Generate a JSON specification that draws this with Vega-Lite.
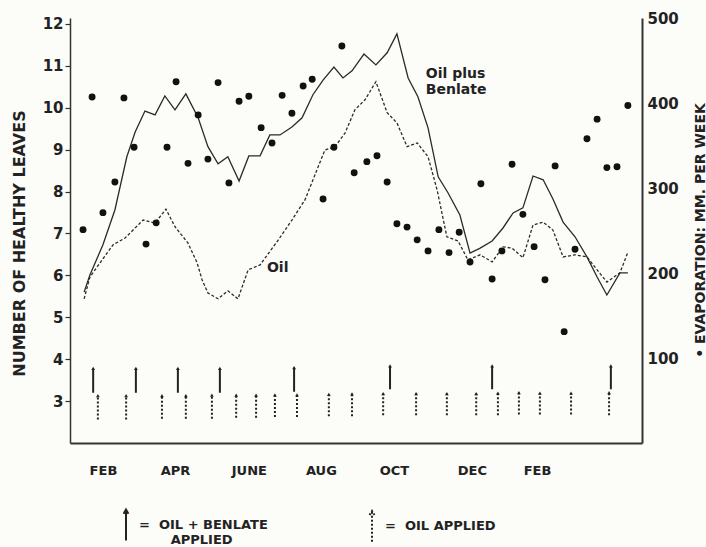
{
  "$schema": "https://vega.github.io/schema/vega-lite/v6.json",
  "width": 572,
  "height": 425,
  "autosize": "none",
  "padding": {"left": 70, "top": 18, "right": 64, "bottom": 104},
  "background": "#fcfcf9",
  "config": {"view": {"stroke": null}, "font": "DejaVu Sans"},
  "datasets": {
    "leaves": [
      {"m": 0.39, "v": 5.60, "s": "Oil plus Benlate"},
      {"m": 0.55, "v": 6.01, "s": "Oil plus Benlate"},
      {"m": 0.91, "v": 6.73, "s": "Oil plus Benlate"},
      {"m": 1.24, "v": 7.56, "s": "Oil plus Benlate"},
      {"m": 1.57, "v": 8.83, "s": "Oil plus Benlate"},
      {"m": 1.80, "v": 9.42, "s": "Oil plus Benlate"},
      {"m": 2.07, "v": 9.92, "s": "Oil plus Benlate"},
      {"m": 2.35, "v": 9.83, "s": "Oil plus Benlate"},
      {"m": 2.62, "v": 10.28, "s": "Oil plus Benlate"},
      {"m": 2.90, "v": 9.95, "s": "Oil plus Benlate"},
      {"m": 3.20, "v": 10.33, "s": "Oil plus Benlate"},
      {"m": 3.54, "v": 9.76, "s": "Oil plus Benlate"},
      {"m": 3.81, "v": 9.07, "s": "Oil plus Benlate"},
      {"m": 4.09, "v": 8.66, "s": "Oil plus Benlate"},
      {"m": 4.36, "v": 8.83, "s": "Oil plus Benlate"},
      {"m": 4.67, "v": 8.25, "s": "Oil plus Benlate"},
      {"m": 4.94, "v": 8.85, "s": "Oil plus Benlate"},
      {"m": 5.25, "v": 8.85, "s": "Oil plus Benlate"},
      {"m": 5.52, "v": 9.35, "s": "Oil plus Benlate"},
      {"m": 5.80, "v": 9.35, "s": "Oil plus Benlate"},
      {"m": 6.13, "v": 9.54, "s": "Oil plus Benlate"},
      {"m": 6.41, "v": 9.76, "s": "Oil plus Benlate"},
      {"m": 6.71, "v": 10.31, "s": "Oil plus Benlate"},
      {"m": 6.99, "v": 10.66, "s": "Oil plus Benlate"},
      {"m": 7.29, "v": 10.97, "s": "Oil plus Benlate"},
      {"m": 7.54, "v": 10.71, "s": "Oil plus Benlate"},
      {"m": 7.79, "v": 10.88, "s": "Oil plus Benlate"},
      {"m": 8.12, "v": 11.28, "s": "Oil plus Benlate"},
      {"m": 8.45, "v": 11.02, "s": "Oil plus Benlate"},
      {"m": 8.76, "v": 11.31, "s": "Oil plus Benlate"},
      {"m": 9.03, "v": 11.76, "s": "Oil plus Benlate"},
      {"m": 9.34, "v": 10.71, "s": "Oil plus Benlate"},
      {"m": 9.61, "v": 10.26, "s": "Oil plus Benlate"},
      {"m": 9.89, "v": 9.52, "s": "Oil plus Benlate"},
      {"m": 10.17, "v": 8.35, "s": "Oil plus Benlate"},
      {"m": 10.44, "v": 7.97, "s": "Oil plus Benlate"},
      {"m": 10.77, "v": 7.44, "s": "Oil plus Benlate"},
      {"m": 11.05, "v": 6.53, "s": "Oil plus Benlate"},
      {"m": 11.33, "v": 6.65, "s": "Oil plus Benlate"},
      {"m": 11.66, "v": 6.82, "s": "Oil plus Benlate"},
      {"m": 11.96, "v": 7.13, "s": "Oil plus Benlate"},
      {"m": 12.24, "v": 7.49, "s": "Oil plus Benlate"},
      {"m": 12.51, "v": 7.61, "s": "Oil plus Benlate"},
      {"m": 12.79, "v": 8.37, "s": "Oil plus Benlate"},
      {"m": 13.07, "v": 8.28, "s": "Oil plus Benlate"},
      {"m": 13.34, "v": 7.82, "s": "Oil plus Benlate"},
      {"m": 13.62, "v": 7.27, "s": "Oil plus Benlate"},
      {"m": 13.95, "v": 6.92, "s": "Oil plus Benlate"},
      {"m": 14.28, "v": 6.44, "s": "Oil plus Benlate"},
      {"m": 14.56, "v": 5.96, "s": "Oil plus Benlate"},
      {"m": 14.83, "v": 5.53, "s": "Oil plus Benlate"},
      {"m": 15.19, "v": 6.06, "s": "Oil plus Benlate"},
      {"m": 15.41, "v": 6.06, "s": "Oil plus Benlate"},
      {"m": 0.39, "v": 5.44, "s": "Oil"},
      {"m": 0.55, "v": 5.96, "s": "Oil"},
      {"m": 0.83, "v": 6.30, "s": "Oil"},
      {"m": 1.19, "v": 6.73, "s": "Oil"},
      {"m": 1.52, "v": 6.89, "s": "Oil"},
      {"m": 2.02, "v": 7.32, "s": "Oil"},
      {"m": 2.35, "v": 7.25, "s": "Oil"},
      {"m": 2.65, "v": 7.58, "s": "Oil"},
      {"m": 2.90, "v": 7.16, "s": "Oil"},
      {"m": 3.26, "v": 6.77, "s": "Oil"},
      {"m": 3.51, "v": 6.30, "s": "Oil"},
      {"m": 3.65, "v": 5.89, "s": "Oil"},
      {"m": 3.81, "v": 5.58, "s": "Oil"},
      {"m": 4.09, "v": 5.44, "s": "Oil"},
      {"m": 4.36, "v": 5.63, "s": "Oil"},
      {"m": 4.64, "v": 5.44, "s": "Oil"},
      {"m": 4.92, "v": 6.13, "s": "Oil"},
      {"m": 5.25, "v": 6.25, "s": "Oil"},
      {"m": 5.75, "v": 6.84, "s": "Oil"},
      {"m": 6.13, "v": 7.32, "s": "Oil"},
      {"m": 6.49, "v": 7.80, "s": "Oil"},
      {"m": 7.04, "v": 8.99, "s": "Oil"},
      {"m": 7.32, "v": 9.07, "s": "Oil"},
      {"m": 7.60, "v": 9.40, "s": "Oil"},
      {"m": 7.87, "v": 9.95, "s": "Oil"},
      {"m": 8.15, "v": 10.19, "s": "Oil"},
      {"m": 8.45, "v": 10.62, "s": "Oil"},
      {"m": 8.76, "v": 9.88, "s": "Oil"},
      {"m": 9.03, "v": 9.64, "s": "Oil"},
      {"m": 9.31, "v": 9.07, "s": "Oil"},
      {"m": 9.59, "v": 9.16, "s": "Oil"},
      {"m": 9.89, "v": 8.83, "s": "Oil"},
      {"m": 10.14, "v": 8.04, "s": "Oil"},
      {"m": 10.41, "v": 6.92, "s": "Oil"},
      {"m": 10.72, "v": 6.82, "s": "Oil"},
      {"m": 10.99, "v": 6.37, "s": "Oil"},
      {"m": 11.33, "v": 6.49, "s": "Oil"},
      {"m": 11.66, "v": 6.32, "s": "Oil"},
      {"m": 11.96, "v": 6.68, "s": "Oil"},
      {"m": 12.21, "v": 6.65, "s": "Oil"},
      {"m": 12.51, "v": 6.42, "s": "Oil"},
      {"m": 12.79, "v": 7.20, "s": "Oil"},
      {"m": 13.07, "v": 7.27, "s": "Oil"},
      {"m": 13.34, "v": 7.08, "s": "Oil"},
      {"m": 13.62, "v": 6.44, "s": "Oil"},
      {"m": 13.95, "v": 6.49, "s": "Oil"},
      {"m": 14.28, "v": 6.44, "s": "Oil"},
      {"m": 14.56, "v": 6.13, "s": "Oil"},
      {"m": 14.83, "v": 5.84, "s": "Oil"},
      {"m": 15.19, "v": 6.06, "s": "Oil"},
      {"m": 15.41, "v": 6.55, "s": "Oil"}
    ],
    "evap": [
      {"m": 0.36, "e": 251}, {"m": 0.61, "e": 407}, {"m": 0.91, "e": 271}, {"m": 1.24, "e": 307},
      {"m": 1.49, "e": 406}, {"m": 1.77, "e": 348}, {"m": 2.10, "e": 234}, {"m": 2.38, "e": 259},
      {"m": 2.68, "e": 348}, {"m": 2.93, "e": 425}, {"m": 3.26, "e": 329}, {"m": 3.54, "e": 386},
      {"m": 3.81, "e": 334}, {"m": 4.09, "e": 424}, {"m": 4.39, "e": 306}, {"m": 4.67, "e": 402},
      {"m": 4.94, "e": 408}, {"m": 5.28, "e": 371}, {"m": 5.58, "e": 353}, {"m": 5.86, "e": 409},
      {"m": 6.13, "e": 388}, {"m": 6.44, "e": 420}, {"m": 6.69, "e": 428}, {"m": 6.99, "e": 287},
      {"m": 7.29, "e": 348}, {"m": 7.51, "e": 467}, {"m": 7.85, "e": 318}, {"m": 8.20, "e": 331},
      {"m": 8.48, "e": 338}, {"m": 8.76, "e": 307}, {"m": 9.03, "e": 258}, {"m": 9.31, "e": 254},
      {"m": 9.59, "e": 239}, {"m": 9.89, "e": 226}, {"m": 10.19, "e": 251}, {"m": 10.47, "e": 224},
      {"m": 10.75, "e": 248}, {"m": 11.05, "e": 213}, {"m": 11.35, "e": 305}, {"m": 11.66, "e": 193},
      {"m": 11.93, "e": 226}, {"m": 12.21, "e": 328}, {"m": 12.51, "e": 269}, {"m": 12.82, "e": 231},
      {"m": 13.12, "e": 192}, {"m": 13.40, "e": 326}, {"m": 13.65, "e": 131}, {"m": 13.95, "e": 228},
      {"m": 14.28, "e": 358}, {"m": 14.56, "e": 381}, {"m": 14.83, "e": 324}, {"m": 15.11, "e": 325},
      {"m": 15.41, "e": 397}
    ],
    "apps": [
      {"m": 0.64, "lo": 3.2, "hi": 3.78, "type": "OIL + BENLATE APPLIED"},
      {"m": 1.82, "lo": 3.2, "hi": 3.78, "type": "OIL + BENLATE APPLIED"},
      {"m": 2.98, "lo": 3.2, "hi": 3.78, "type": "OIL + BENLATE APPLIED"},
      {"m": 4.14, "lo": 3.2, "hi": 3.78, "type": "OIL + BENLATE APPLIED"},
      {"m": 6.19, "lo": 3.22, "hi": 3.8, "type": "OIL + BENLATE APPLIED"},
      {"m": 8.84, "lo": 3.28, "hi": 3.84, "type": "OIL + BENLATE APPLIED"},
      {"m": 11.66, "lo": 3.28, "hi": 3.84, "type": "OIL + BENLATE APPLIED"},
      {"m": 14.94, "lo": 3.28, "hi": 3.84, "type": "OIL + BENLATE APPLIED"},
      {"m": 0.77, "lo": 2.56, "hi": 3.13, "type": "OIL APPLIED"},
      {"m": 1.55, "lo": 2.56, "hi": 3.13, "type": "OIL APPLIED"},
      {"m": 2.54, "lo": 2.58, "hi": 3.13, "type": "OIL APPLIED"},
      {"m": 3.20, "lo": 2.58, "hi": 3.13, "type": "OIL APPLIED"},
      {"m": 3.92, "lo": 2.58, "hi": 3.14, "type": "OIL APPLIED"},
      {"m": 4.59, "lo": 2.6, "hi": 3.14, "type": "OIL APPLIED"},
      {"m": 5.14, "lo": 2.6, "hi": 3.14, "type": "OIL APPLIED"},
      {"m": 5.66, "lo": 2.62, "hi": 3.15, "type": "OIL APPLIED"},
      {"m": 6.27, "lo": 2.62, "hi": 3.15, "type": "OIL APPLIED"},
      {"m": 7.15, "lo": 2.64, "hi": 3.16, "type": "OIL APPLIED"},
      {"m": 7.79, "lo": 2.64, "hi": 3.17, "type": "OIL APPLIED"},
      {"m": 8.65, "lo": 2.66, "hi": 3.18, "type": "OIL APPLIED"},
      {"m": 9.56, "lo": 2.66, "hi": 3.18, "type": "OIL APPLIED"},
      {"m": 10.41, "lo": 2.66, "hi": 3.18, "type": "OIL APPLIED"},
      {"m": 11.22, "lo": 2.66, "hi": 3.18, "type": "OIL APPLIED"},
      {"m": 11.82, "lo": 2.66, "hi": 3.19, "type": "OIL APPLIED"},
      {"m": 12.40, "lo": 2.68, "hi": 3.2, "type": "OIL APPLIED"},
      {"m": 12.98, "lo": 2.68, "hi": 3.19, "type": "OIL APPLIED"},
      {"m": 13.84, "lo": 2.68, "hi": 3.19, "type": "OIL APPLIED"},
      {"m": 14.89, "lo": 2.66, "hi": 3.2, "type": "OIL APPLIED"}
    ],
    "notes": [
      {"label": "Oil plus", "m": 9.83, "v": 10.81},
      {"label": "Benlate", "m": 9.83, "v": 10.43},
      {"label": "Oil", "m": 5.44, "v": 6.18}
    ]
  },
  "resolve": {"scale": {"y": "independent"}},
  "layer": [
    {
      "layer": [
        {
          "data": {"name": "leaves"},
          "transform": [{"filter": "datum.s == 'Oil plus Benlate'"}],
          "mark": {"type": "line", "color": "#2a2a2a", "strokeWidth": 1.3},
          "encoding": {
            "x": {
              "field": "m", "type": "quantitative",
              "scale": {"domain": [0, 15.8], "nice": false, "zero": false},
              "axis": {
                "title": null, "grid": false,
                "values": [0.91, 2.9, 4.94, 6.93, 8.95, 11.1, 12.9],
                "labelExpr": "datum.value < 2 ? 'FEB' : datum.value < 4 ? 'APR' : datum.value < 6 ? 'JUNE' : datum.value < 8 ? 'AUG' : datum.value < 10 ? 'OCT' : datum.value < 12 ? 'DEC' : 'FEB'",
                "tickSize": 0, "labelPadding": 21, "labelFont": "DejaVu Sans", "labelFontWeight": "bold",
                "labelFontSize": 13, "labelColor": "#222", "domainColor": "#333", "domainWidth": 2,
                "labelFlush": false, "labelOverlap": false
              }
            },
            "y": {
              "field": "v", "type": "quantitative",
              "scale": {"domain": [2, 12.14], "nice": false, "zero": false},
              "axis": {
                "title": "NUMBER OF HEALTHY LEAVES", "grid": false,
                "values": [3, 4, 5, 6, 7, 8, 9, 10, 11, 12],
                "tickSize": 5, "tickColor": "#333", "tickWidth": 1.2, "labelPadding": 2,
                "labelFont": "DejaVu Sans", "labelFontWeight": "bold", "labelFontSize": 15, "labelColor": "#222",
                "domainColor": "#333", "domainWidth": 1.5,
                "titleFont": "DejaVu Sans", "titleFontWeight": "bold", "titleFontSize": 16, "titleColor": "#222",
                "titleAngle": 270, "titleX": -51, "titleY": 225, "titleBaseline": "middle", "titleAlign": "center"
              }
            }
          }
        },
        {
          "data": {"name": "leaves"},
          "transform": [{"filter": "datum.s == 'Oil'"}],
          "mark": {"type": "line", "color": "#2a2a2a", "strokeWidth": 1.3, "strokeDash": [3, 2]},
          "encoding": {
            "x": {"field": "m", "type": "quantitative"},
            "y": {"field": "v", "type": "quantitative"}
          }
        },
        {
          "data": {"name": "apps"},
          "mark": {"type": "rule", "color": "#222", "strokeWidth": 2},
          "encoding": {
            "x": {"field": "m", "type": "quantitative"},
            "y": {"field": "lo", "type": "quantitative"},
            "y2": {"field": "hi"},
            "strokeDash": {
              "field": "type", "type": "nominal",
              "scale": {"domain": ["OIL + BENLATE APPLIED", "OIL APPLIED"], "range": [[1, 0], [2, 2]]},
              "legend": {
                "title": null, "orient": "none", "legendX": 48, "legendY": 499,
                "direction": "horizontal", "columns": 2, "columnPadding": 96,
                "symbolType": "M0,2.2L0,-2.2M-0.35,-1.6L0,-2.2L0.35,-1.6",
                "symbolSize": 196, "symbolStrokeWidth": 2, "symbolStrokeColor": "#222",
                "symbolFillColor": "transparent", "labelOffset": 5, "labelLimit": 0,
                "labelFont": "DejaVu Sans", "labelFontWeight": "bold", "labelFontSize": 13, "labelColor": "#222",
                "labelExpr": "datum.label == 'OIL APPLIED' ? '=\u00a0\u00a0OIL APPLIED' : ['=\u00a0\u00a0OIL + BENLATE', '\u200b\u00a0\u00a0\u00a0\u00a0\u00a0\u00a0\u00a0APPLIED']"
              }
            }
          }
        },
        {
          "data": {"name": "apps"},
          "mark": {"type": "point", "shape": "triangle-up", "filled": true, "size": 14, "color": "#222", "opacity": 1},
          "encoding": {
            "x": {"field": "m", "type": "quantitative"},
            "y": {"field": "hi", "type": "quantitative"}
          }
        },
        {
          "data": {"name": "notes"},
          "mark": {"type": "text", "align": "left", "baseline": "middle", "font": "DejaVu Sans", "fontWeight": "bold", "fontSize": 14, "color": "#222"},
          "encoding": {
            "x": {"field": "m", "type": "quantitative"},
            "y": {"field": "v", "type": "quantitative"},
            "text": {"field": "label"}
          }
        }
      ]
    },
    {
      "data": {"name": "evap"},
      "mark": {"type": "circle", "size": 48, "color": "#111", "opacity": 1},
      "encoding": {
        "x": {"field": "m", "type": "quantitative"},
        "y": {
          "field": "e", "type": "quantitative",
          "scale": {"domain": [0, 500], "nice": false, "zero": false},
          "axis": {
            "orient": "right", "title": "• EVAPORATION: MM. PER WEEK", "grid": false,
            "values": [100, 200, 300, 400, 500],
            "tickSize": 0, "labelPadding": 5,
            "labelFont": "DejaVu Sans", "labelFontWeight": "bold", "labelFontSize": 15, "labelColor": "#222",
            "domainColor": "#333", "domainWidth": 2,
            "titleFont": "DejaVu Sans", "titleFontWeight": "bold", "titleFontSize": 14, "titleColor": "#222",
            "titleAngle": 270, "titleX": 58, "titleY": 212, "titleBaseline": "middle", "titleAlign": "center"
          }
        }
      }
    }
  ]
}
